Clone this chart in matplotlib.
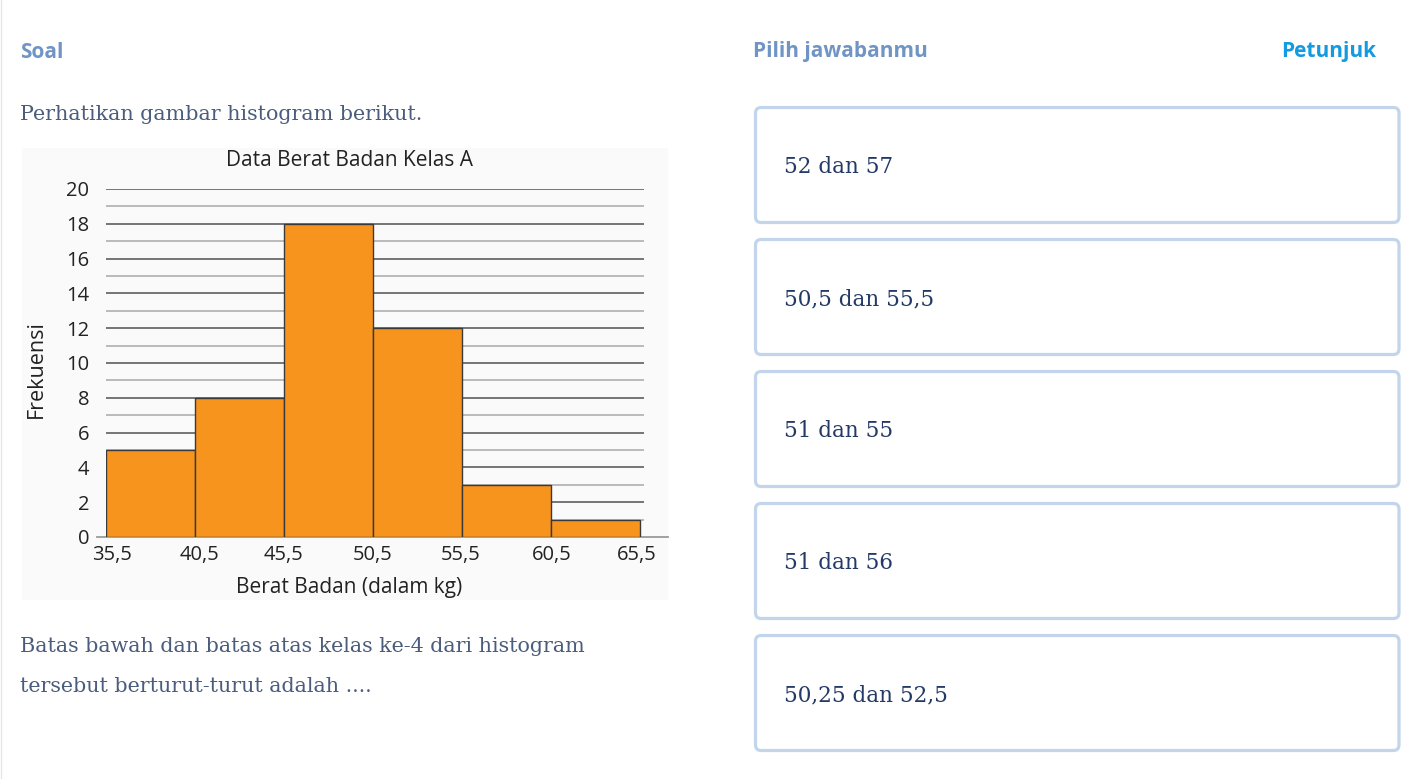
import matplotlib
matplotlib.use("Agg")
import matplotlib.pyplot as plt
import matplotlib.transforms as mtransforms
from matplotlib.patches import FancyBboxPatch, Rectangle

W, H = 1427, 779

# ---- data ----
class_edges = [35.5, 40.5, 45.5, 50.5, 55.5, 60.5, 65.5]
edge_labels = ["35,5", "40,5", "45,5", "50,5", "55,5", "60,5", "65,5"]
frequencies = [5, 8, 18, 12, 3, 1]
y_ticks = [0, 2, 4, 6, 8, 10, 12, 14, 16, 18, 20]
answers = ["52 dan 57", "50,5 dan 55,5", "51 dan 55", "51 dan 56", "50,25 dan 52,5"]

chart_title = "Data Berat Badan Kelas A"
x_label = "Berat Badan (dalam kg)"
y_label = "Frekuensi"

HEAD_COL = "#7094c4"
HINT_COL = "#129be0"
BODY_COL = "#4b5d7c"
ANS_COL = "#243a66"
BOX_COL = "#c2d5ea"
BAR_COL = "#f7941d"

SANS = ["Open Sans", "DejaVu Sans"]
SERIF = ["DejaVu Serif"]

fig = plt.figure(figsize=(W / 100, H / 100), dpi=100)
fig.patch.set_facecolor("white")


def fx(x):
    return x / W


def fy(y):
    return 1 - y / H


# left edge faint line
fig.add_artist(plt.Line2D([fx(0.5), fx(0.5)], [0, 1], color="#e6e6e6", lw=1))

# headers
fig.text(fx(20), fy(52), "Soal", fontsize=15, fontweight="bold", color=HEAD_COL,
         family=SANS, va="center", ha="left")
fig.text(fx(753), fy(52), "Pilih jawabanmu", fontsize=15, fontweight="bold",
         color=HEAD_COL, family=SANS, va="center", ha="left")
fig.text(fx(1376), fy(52), "Petunjuk", fontsize=15, fontweight="bold", color=HINT_COL,
         family=SANS, va="center", ha="right")

# question text
fig.text(fx(20), fy(115), "Perhatikan gambar histogram berikut.", fontsize=14.9,
         color=BODY_COL, family=SERIF, va="center", ha="left")
fig.text(fx(20), fy(647), "Batas bawah dan batas atas kelas ke-4 dari histogram",
         fontsize=14.9, color=BODY_COL, family=SERIF, va="center", ha="left")
fig.text(fx(20), fy(687), "tersebut berturut-turut adalah ....", fontsize=14.9,
         color=BODY_COL, family=SERIF, va="center", ha="left")

# image background
fig.add_artist(Rectangle((fx(22), fy(600)), fx(668 - 22), (600 - 148) / H,
                         transform=fig.transFigure, facecolor="#fafafa",
                         edgecolor="none", zorder=0))

# answer boxes
box_tops = [106, 238, 370, 502, 634]
box_h = 118
for top, ans in zip(box_tops, answers):
    fig.add_artist(FancyBboxPatch((fx(755.5), fy(top + box_h - 1.5)), fx(1399 - 755.5),
                                  (box_h - 3) / H,
                                  boxstyle="round,pad=0,rounding_size=0.004",
                                  transform=fig.transFigure, facecolor="white",
                                  edgecolor=BOX_COL, lw=2.3, mutation_aspect=W / H))
    fig.text(fx(784), fy(top + 61), ans, fontsize=15.5, color=ANS_COL, family=SERIF,
             va="center", ha="left")

# histogram axes
x0, x1 = 106, 668
y0, y1 = 537, 189
ax = fig.add_axes([fx(x0), fy(y0), (x1 - x0) / W, (y0 - y1) / H])
ax.set_facecolor("none")
unit = (640 - 106) / 30.0
ax.set_xlim(35.5, 35.5 + (x1 - x0) / unit)
ax.set_ylim(0, 20)
grid_end = 35.5 + (644 - 106) / unit
for v in range(1, 21):
    major = v % 2 == 0
    ax.hlines(v, 35.5, grid_end, colors="#6a6a6a" if major else "#a8a8a8",
              lw=1.3 if major else 1.1, zorder=1)
widths = [class_edges[i + 1] - class_edges[i] for i in range(len(frequencies))]
ax.bar(class_edges[:-1], frequencies, width=widths, align="edge", color=BAR_COL,
       edgecolor="#3a3a3a", lw=1.0, zorder=2)
for s in ["top", "right", "left", "bottom"]:
    ax.spines[s].set_visible(False)
# baseline, starting slightly left of the first bar as in the source image
ax.axhline(0, xmin=-9 / (x1 - x0), xmax=1, color="#9a9a9a", lw=1.3, clip_on=False,
           zorder=1.5)
ax.set_xticks(class_edges)
ax.set_xticklabels(edge_labels)
ax.set_yticks(y_ticks)
ax.tick_params(axis="both", length=0, labelsize=14.5, labelcolor="#222222")
ax.tick_params(axis="y", pad=12)
ax.tick_params(axis="x", pad=6)
nudges = [6, 4, 0, 0, -1, 1, -3]  # pixel nudges of x tick labels (layout only)
for lab, dx in zip(ax.get_xticklabels(), nudges):
    lab.set_family(SANS)
    lab.set_transform(lab.get_transform() +
                      mtransforms.ScaledTranslation(dx / 100, 0, fig.dpi_scale_trans))
for lab in ax.get_yticklabels():
    lab.set_family(SANS)

fig.text(fx(349), fy(160), chart_title, fontsize=15, color="#222222", family=SANS,
         va="center", ha="center")
fig.text(fx(349), fy(587), x_label, fontsize=15, color="#222222", family=SANS,
         va="center", ha="center")
fig.text(fx(36), fy(369), y_label, fontsize=15.5, color="#222222", family=SANS,
         va="center", ha="center", rotation=90)

fig.savefig("out.png", dpi=100)
